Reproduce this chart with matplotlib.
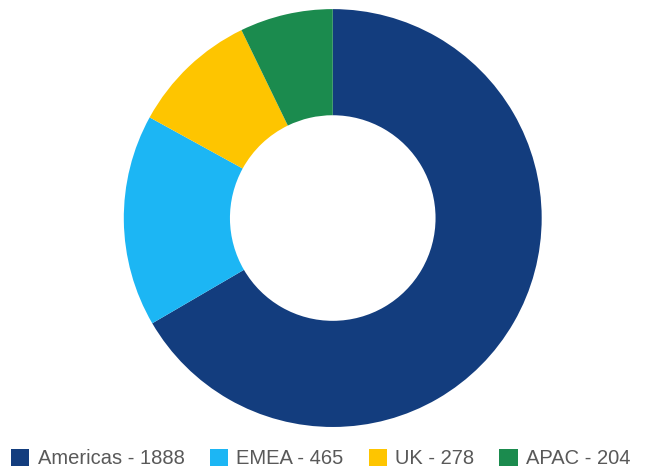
import matplotlib.pyplot as plt
from matplotlib.patches import Patch

regions = ["Americas", "EMEA", "UK", "APAC"]
counts = [1888, 465, 278, 204]
colors = ["#133d7e", "#1cb6f4", "#fec500", "#1b8b4e"]

plt.rcParams['font.family'] = ['Liberation Sans', 'DejaVu Sans']

fig = plt.figure(figsize=(6.48, 4.69), dpi=100)
ax = fig.add_axes([0.191, 0.0896, 0.645, 0.891])
ax.pie(counts, colors=colors, startangle=90, counterclock=False,
       radius=1.0, wedgeprops=dict(width=0.508, edgecolor='none'))
ax.set_xlim(-1, 1)
ax.set_ylim(-1, 1)
ax.set_aspect('equal')
ax.axis('off')

handles = [Patch(facecolor=c, edgecolor='none') for c in colors]
labels = ["%s - %d" % (r, v) for r, v in zip(regions, counts)]
fig.legend(handles, labels, loc='center', bbox_to_anchor=(0.495, 0.022),
           ncol=4, frameon=False, fontsize=14.5, labelcolor='#595959',
           handlelength=0.9, handleheight=0.9, handletextpad=0.42,
           columnspacing=1.25, borderpad=0, borderaxespad=0)

fig.savefig("out.png", dpi=100)
